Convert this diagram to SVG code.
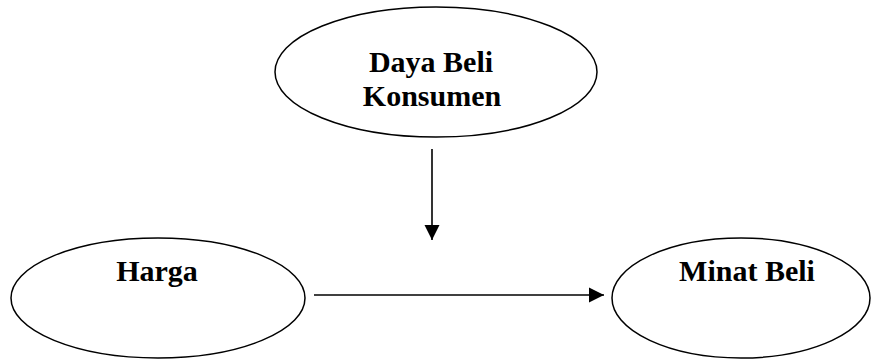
<svg xmlns="http://www.w3.org/2000/svg" width="873" height="364" viewBox="0 0 873 364">
  <style>
    .node ellipse { fill: #ffffff; stroke: #000000; stroke-width: 1.5; }
    .node text { font-family: "Liberation Serif", "Times New Roman", serif; font-weight: bold; font-size: 30px; fill: #000000; text-anchor: middle; }
    .edge { stroke: #000000; stroke-width: 1.6; fill: none; marker-end: url(#arrow); }
  </style>
  <defs>
    <marker id="arrow" viewBox="0 0 10 10" refX="10" refY="5" markerUnits="userSpaceOnUse" markerWidth="15" markerHeight="16" orient="auto">
      <path d="M0,0 L10,5 L0,10 Z" fill="#000000"/>
    </marker>
  </defs>
  <rect width="873" height="364" fill="#ffffff"/>

  <g id="connectors">
    <line class="edge" x1="432" y1="149" x2="432" y2="240"/>
    <line class="edge" x1="314" y1="295" x2="604" y2="295"/>
  </g>

  <g id="daya-beli-konsumen" class="node">
    <ellipse cx="436" cy="72" rx="161" ry="65"/>
    <text x="431" y="72">Daya Beli</text>
    <text x="432" y="106">Konsumen</text>
  </g>

  <g id="harga" class="node">
    <ellipse cx="158" cy="298" rx="147" ry="60"/>
    <text x="157" y="281">Harga</text>
  </g>

  <g id="minat-beli" class="node">
    <ellipse cx="741" cy="298" rx="129" ry="60"/>
    <text x="747" y="281">Minat Beli</text>
  </g>
</svg>
